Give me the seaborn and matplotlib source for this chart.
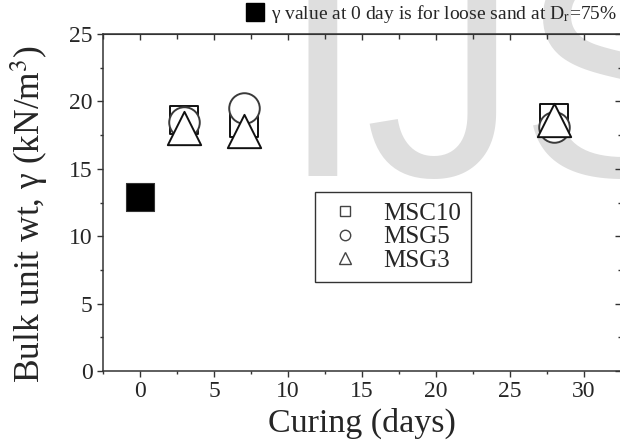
import matplotlib
matplotlib.use("Agg")
import matplotlib.pyplot as plt
from matplotlib.lines import Line2D
from matplotlib.ticker import MultipleLocator
import seaborn as sns

# Bulk unit weight vs curing time
days = [3, 7, 28]
msc10 = [18.6, 18.4, 18.8]
msg5 = [18.5, 19.5, 18.1]
msg3 = [18.0, 17.8, 18.6]

# loose sand reference point (0 day)
loose_day = [0]
loose_gamma = [12.9]

series_names = ["MSC10", "MSG5", "MSG3"]
note_text = "γ value at 0 day is for loose sand at D$_{\\mathrm{r}}$=75%"

sns.set_style("ticks")
plt.rcParams["font.family"] = ["Liberation Serif", "DejaVu Serif"]
plt.rcParams["mathtext.fontset"] = "stix"

fig = plt.figure(figsize=(6.2, 4.45), dpi=100)
ax = fig.add_axes([103 / 620, 1 - 371 / 445, 518 / 620, 337 / 445])
ax.set_facecolor("none")

# faint watermark behind the plot
fig.text(280 / 620, 1 - 176 / 445, "IJSER", fontsize=222, color="#dedede",
         family="Liberation Sans", va="baseline", ha="left", zorder=-5)

edge = "#111111"
sns.scatterplot(x=days, y=msc10, marker="s", s=20.5 ** 2, facecolor="white",
                edgecolor=edge, linewidth=1.4, ax=ax, zorder=3)
sns.scatterplot(x=days, y=msg5, marker="o", s=22 ** 2, facecolor="white",
                edgecolor="#3a3a3a", linewidth=1.4, ax=ax, zorder=4)
sns.scatterplot(x=days, y=msg3, marker="^", s=24 ** 2, facecolor="white",
                edgecolor=edge, linewidth=1.4, ax=ax, zorder=5)
sns.scatterplot(x=loose_day, y=loose_gamma, marker="s", s=20 ** 2, color="black",
                edgecolor="#333333", linewidth=0.8, ax=ax, zorder=3)

ax.set_xlim(-2.5, 32.5)
ax.set_ylim(0, 25)
ax.xaxis.set_major_locator(MultipleLocator(5))
ax.xaxis.set_minor_locator(MultipleLocator(2.5))
ax.yaxis.set_major_locator(MultipleLocator(5))
ax.yaxis.set_minor_locator(MultipleLocator(2.5))

for s in ax.spines.values():
    s.set_color("#333333")
    s.set_linewidth(1.1)

ax.tick_params(which="major", direction="out", length=4.5, width=1, color="#333333",
               labelsize=17, pad=3)
ax.tick_params(which="minor", direction="out", length=2.2, width=1, color="#333333")

# mirrored inward ticks on top and right
top = ax.secondary_xaxis("top")
top.xaxis.set_major_locator(MultipleLocator(5))
top.xaxis.set_minor_locator(MultipleLocator(2.5))
top.tick_params(which="major", direction="in", length=4.5, width=1, color="#333333", labeltop=False)
top.tick_params(which="minor", direction="in", length=3.5, width=1, color="#333333")
top.spines["top"].set_color("#333333")
right = ax.secondary_yaxis("right")
right.yaxis.set_major_locator(MultipleLocator(5))
right.yaxis.set_minor_locator(MultipleLocator(2.5))
right.tick_params(which="major", direction="in", length=4.5, width=1, color="#333333", labelright=False)
right.tick_params(which="minor", direction="in", length=2.2, width=1, color="#333333")

ax.set_xlabel("Curing (days)", fontsize=24.5, labelpad=4)
ax.set_ylabel("Bulk unit wt, γ (kN/m$^{3}$)", fontsize=25.5)
ax.yaxis.set_label_coords(-0.1, 0.465)

handles = [
    Line2D([], [], ls="none", marker="s", ms=7, mfc="white", mec="#444444", mew=1),
    Line2D([], [], ls="none", marker="o", ms=7.5, mfc="white", mec="#444444", mew=1),
    Line2D([], [], ls="none", marker="^", ms=8, mfc="white", mec="#444444", mew=1),
]
leg = ax.legend(handles, series_names, loc="upper left", bbox_to_anchor=(0.409, 0.531),
                borderaxespad=0, fontsize=18, frameon=True, fancybox=False,
                edgecolor="#333333", framealpha=1, handlelength=1.6, handletextpad=0.75,
                borderpad=0.4, labelspacing=0.05)
leg.get_frame().set_linewidth(1.0)
ax.add_artist(leg)

note_handle = Line2D([], [], ls="none", marker="s", ms=13.5, mfc="black", mec="black")
ax.legend([note_handle], [note_text], loc="upper right", bbox_to_anchor=(1.0, 1.0),
          bbox_transform=fig.transFigure, frameon=False, fontsize=14,
          handlelength=0.8, handletextpad=0.4, borderpad=0.15, borderaxespad=0)

fig.savefig("out.png", dpi=100)
